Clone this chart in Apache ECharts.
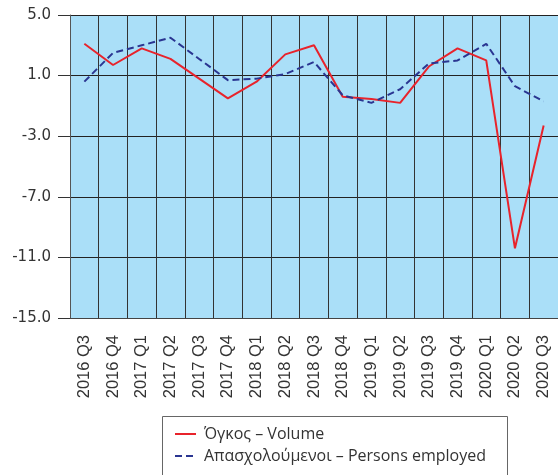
<!DOCTYPE html>
<html>
<head>
<meta charset="utf-8">
<script src="https://cdn.jsdelivr.net/npm/echarts@6/dist/echarts.min.js"></script>
<style>
  html, body { margin: 0; padding: 0; background: #fff; }
  #chart { width: 558px; height: 475px; }
</style>
</head>
<body>
<div id="chart"></div>
<script>
  const quarters = ['2016 Q3', '2016 Q4', '2017 Q1', '2017 Q2', '2017 Q3', '2017 Q4', '2018 Q1', '2018 Q2', '2018 Q3',
    '2018 Q4', '2019 Q1', '2019 Q2', '2019 Q3', '2019 Q4', '2020 Q1', '2020 Q2', '2020 Q3'];
  const volume = [3.1, 1.7, 2.8, 2.1, 0.8, -0.5, 0.6, 2.4, 3.0, -0.4, -0.55, -0.8, 1.6, 2.8, 2.0, -10.4, -2.3];
  const employed = [0.6, 2.5, 3.0, 3.5, 2.1, 0.7, 0.8, 1.1, 1.9, -0.3, -0.8, 0.1, 1.8, 2.0, 3.1, 0.3, -0.7];
  const volumeName = 'Όγκος – Volume';
  const employedName = 'Απασχολούμενοι – Persons employed';

  const chart = echarts.init(document.getElementById('chart'));
  chart.setOption({
    animation: false,
    grid: {
      left: 70,
      top: 15,
      width: 491,
      height: 303,
      show: true,
      backgroundColor: '#aadff8',
      borderWidth: 0,
    },
    // legend frame, it runs off the bottom of the picture
    graphic: [
      {
        type: 'rect',
        left: 162,
        top: 416,
        shape: { width: 345, height: 70 },
        style: { fill: '#fff', stroke: '#666', lineWidth: 1 },
        z: 0,
      },
    ],
    legend: {
      orient: 'vertical',
      left: 174,
      top: 425,
      padding: 0,
      itemGap: 4,
      itemWidth: 21,
      itemHeight: 14,
      itemStyle: { opacity: 0 },
      textStyle: { fontFamily: '"Open Sans", sans-serif', fontSize: 16, lineHeight: 18, color: '#333', padding: [0, 0, 0, 3] },
      data: [volumeName, employedName],
      z: 5,
    },
    xAxis: {
      type: 'category',
      data: quarters,
      boundaryGap: true,
      axisLine: { show: true, onZero: false, lineStyle: { color: '#444' } },
      axisTick: { show: false },
      axisLabel: {
        rotate: 90,
        interval: 0,
        margin: 17,
        fontFamily: '"Liberation Sans", Arial, sans-serif',
        fontSize: 16.5,
        color: '#333',
      },
      splitLine: { show: true, interval: 0, lineStyle: { color: '#333', width: 1 } },
    },
    yAxis: {
      type: 'value',
      min: -15,
      max: 5,
      interval: 4,
      axisLine: { show: true, lineStyle: { color: '#555' } },
      axisTick: { show: true, length: 12, lineStyle: { color: '#333' } },
      axisLabel: {
        margin: 19,
        fontFamily: '"DejaVu Sans", sans-serif',
        fontSize: 15,
        color: '#333',
        formatter: (v) => v.toFixed(1),
      },
      splitLine: { show: true, lineStyle: { color: '#222', width: 1 } },
    },
    series: [
      {
        name: volumeName,
        type: 'line',
        data: volume,
        symbol: 'none',
        lineStyle: { color: '#e8232b', width: 2 },
        itemStyle: { color: '#e8232b' },
      },
      {
        name: employedName,
        type: 'line',
        data: employed,
        symbol: 'none',
        lineStyle: { color: '#2a3591', width: 2, type: [7, 4] },
        itemStyle: { color: '#2a3591' },
      },
    ],
  });
</script>
</body>
</html>
